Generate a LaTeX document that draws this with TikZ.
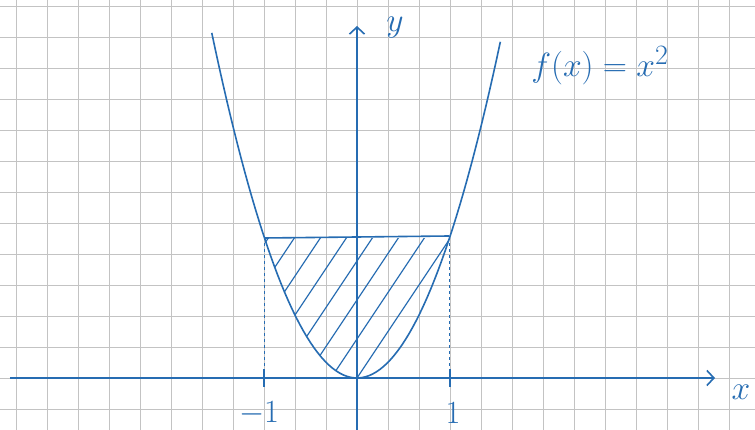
\documentclass[tikz,border=0pt]{standalone}
\usetikzlibrary{arrows.meta}
\definecolor{ink}{RGB}{38,108,178}
\definecolor{gridc}{RGB}{195,195,195}
\begin{document}
\begin{tikzpicture}[x=1pt,y=1pt,
  axisline/.style={ink, line width=1.6pt, -{Straight Barb[length=7pt,width=15pt,line width=1.6pt]}},
  curveline/.style={ink, line width=1.6pt, line join=round},
  hatchline/.style={ink, line width=1.2pt},
  guide/.style={ink, line width=0.9pt, dash pattern=on 3pt off 3pt},
  tickmark/.style={ink, line width=2pt},
  lbl/.style={ink, inner sep=0pt, font=\Huge}]
\useasboundingbox (-357,-52) rectangle (398,378);
\fill[white] (-357,-52) rectangle (398,378);
\draw[gridc, line width=0.9pt, step=31] (-357,-52) grid (398,378);
% axes
\coordinate (xs) at (-347,0);
\coordinate (xe) at (358,0);
\coordinate (ys) at (0,-52);
\coordinate (ye) at (0,352);
\draw[axisline] (xs) -- (xe);
\draw[axisline] (ys) -- (ye);
% hatching
\begin{scope}
  \clip plot[domain=-1:1, samples=40] ({92.5*\x},{140*\x*\x}) -- cycle;
  \foreach \k in {-14,...,6} {
    \draw[hatchline] (\k*26,0) -- ++(110,165);
  }
\end{scope}
% parabola
\draw[curveline] plot[domain=-1.57:1.55, samples=80] ({92.5*\x},{140*\x*\x});
% top chord
\coordinate (pl) at (-92.5,140);
\coordinate (pr) at (92.5,142);
\draw[curveline] (pl) -- (pr);
% guides
\coordinate (gl) at (-92.5,0);
\coordinate (gr) at (92.5,0);
\draw[guide] (gl) -- (pl);
\draw[guide] (gr) -- (pr);
% ticks
\draw[tickmark] (-92.5,-9) -- (-92.5,9);
\draw[tickmark] (92.5,-9) -- (92.5,9);
% labels
\node[lbl, scale=1.35] (xl) at (384,-14) {$x$};
\node[lbl, scale=1.35] (yl) at (38,350) {$y$};
\node[lbl, scale=1.35] (fl) at (243,312) {$f(x)=x^2$};
\node[lbl, scale=1.3] (m1) at (-98,-35) {$-1$};
\node[lbl, scale=1.3] (p1) at (96,-35) {$1$};
\end{tikzpicture}
\end{document}
